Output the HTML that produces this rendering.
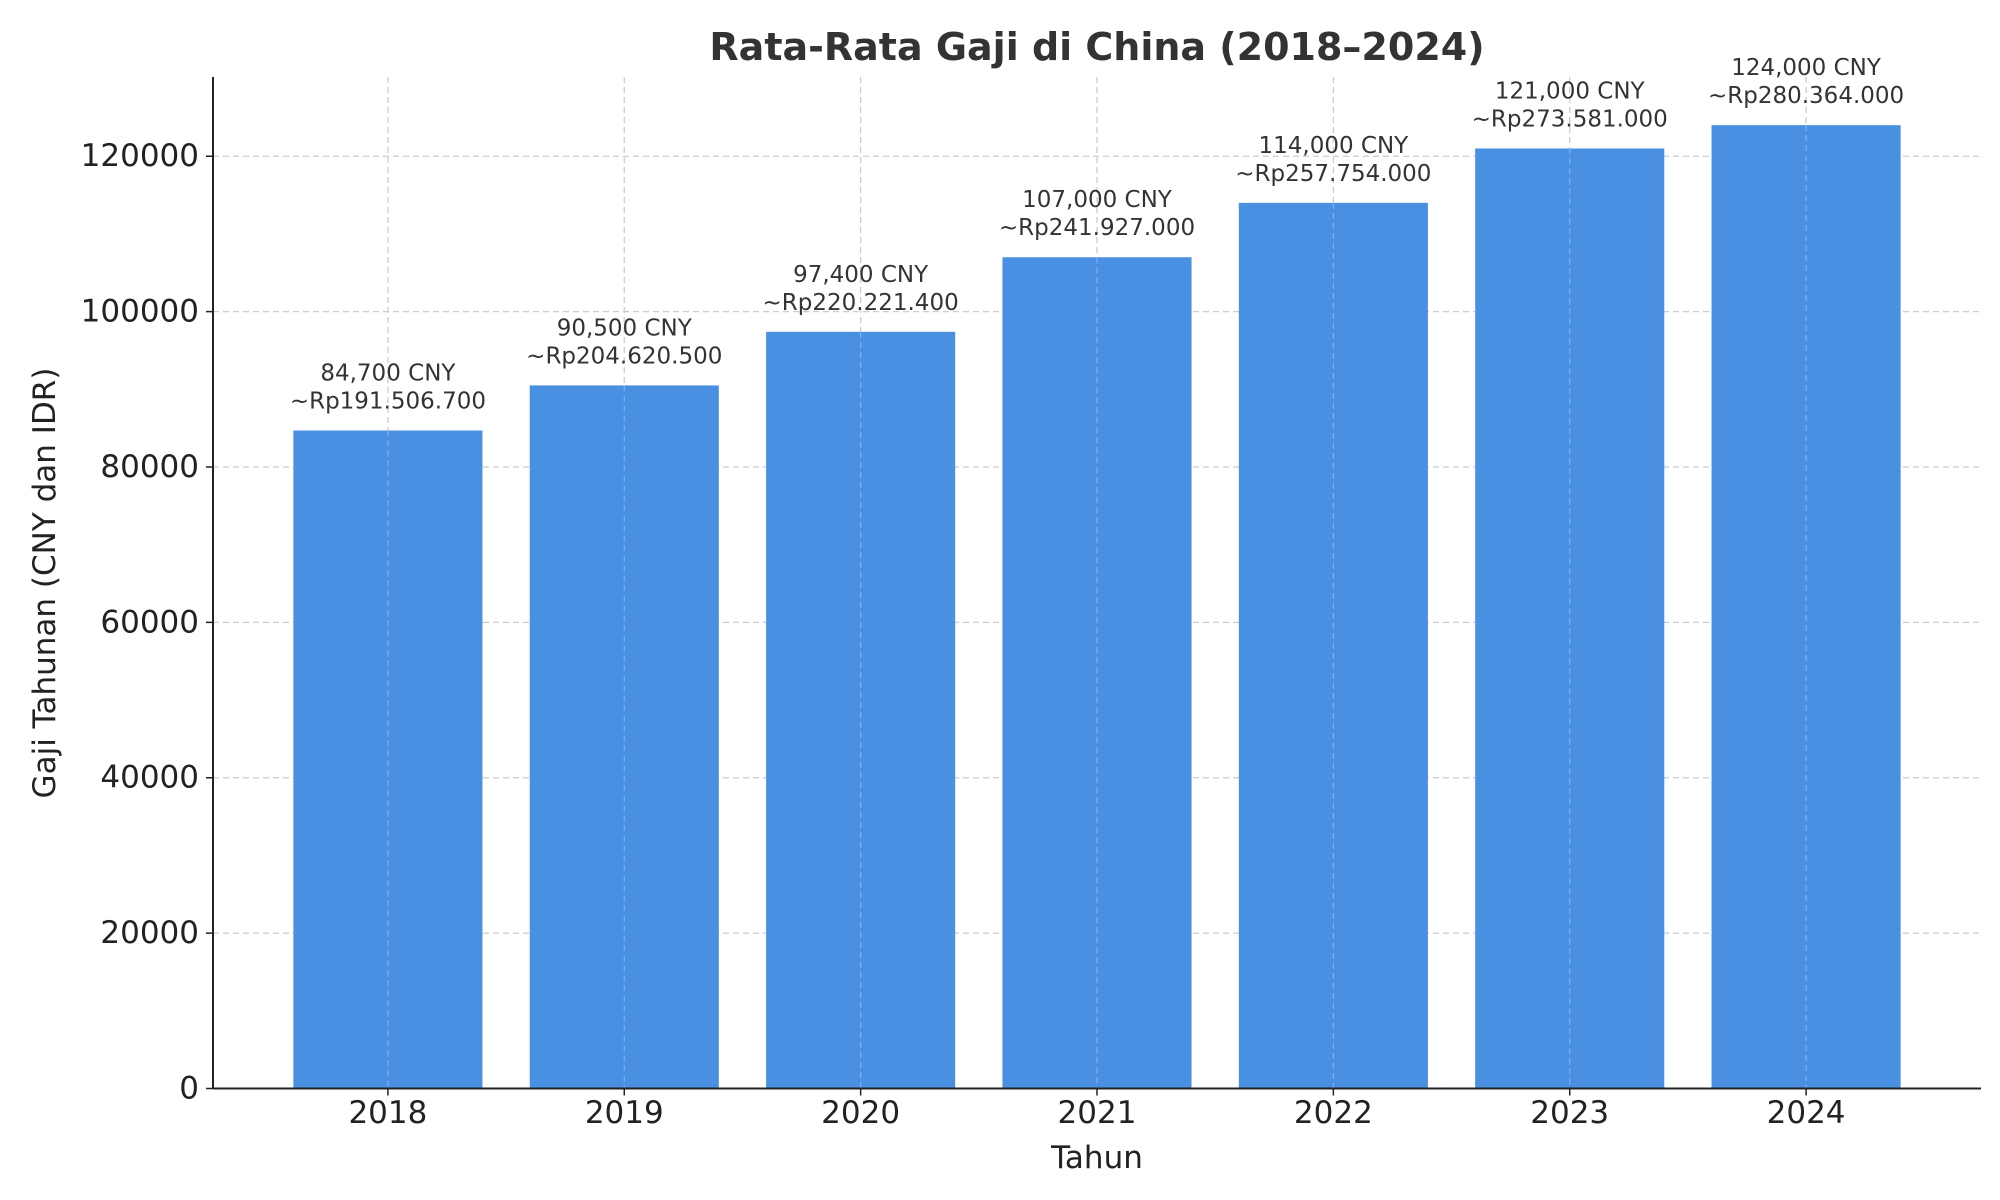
<!DOCTYPE html>
<html><head><meta charset="utf-8"><style>
html,body{margin:0;padding:0;background:#fff;}
svg{display:block;font-family:"DejaVu Sans","Liberation Sans",sans-serif;}
</style></head><body>
<svg id="chart" width="2000" height="1200" viewBox="0 0 2000 1200" xmlns="http://www.w3.org/2000/svg">
<text x="1097" y="47" text-anchor="middle" dominant-baseline="central" font-size="38" font-weight="bold" fill="#333">Rata-Rata Gaji di China (2018–2024)</text>
<g id="grid"></g><g id="bars"></g><g id="labels"></g><g id="axes"></g>
<text transform="translate(45,583) rotate(-90)" text-anchor="middle" dominant-baseline="central" font-size="31" fill="#222">Gaji Tahunan (CNY dan IDR)</text>
<text x="1097" y="1158" text-anchor="middle" dominant-baseline="central" font-size="31" fill="#222">Tahun</text>
</svg>
<script>
const categories = ["2018","2019","2020","2021","2022","2023","2024"];
const cnyValues = [84700, 90500, 97400, 107000, 114000, 121000, 124000];
const cnyLabels = ["84,700 CNY","90,500 CNY","97,400 CNY","107,000 CNY","114,000 CNY","121,000 CNY","124,000 CNY"];
const idrLabels = ["~Rp191.506.700","~Rp204.620.500","~Rp220.221.400","~Rp241.927.000","~Rp257.754.000","~Rp273.581.000","~Rp280.364.000"];
const yTicks = [0, 20000, 40000, 60000, 80000, 100000, 120000];

const NS = "http://www.w3.org/2000/svg";
const L = 213, R = 1981, T = 77, B = 1088.5;
const yMax = Math.max(...cnyValues) * 1.05;
const xMin = -0.74, xMax = categories.length - 1 + 0.74;
const x = i => L + (i - xMin) / (xMax - xMin) * (R - L);
const y = v => B - v / yMax * (B - T);
const bw = (x(1) - x(0)) * 0.8;
function mk(tag, attrs, parent, text) {
  const e = document.createElementNS(NS, tag);
  for (const k in attrs) e.setAttribute(k, attrs[k]);
  if (text !== undefined) e.textContent = text;
  parent.appendChild(e); return e;
}
const grid = document.getElementById('grid'), bars = document.getElementById('bars'),
      labels = document.getElementById('labels'), axes = document.getElementById('axes');
yTicks.forEach(v => {
  const g = mk('line', {x1:L, x2:R, y1:y(v), y2:y(v), stroke:'#ccc', 'stroke-width':1.3, 'stroke-dasharray':'6,4'}, grid);
  
  
  const t = mk('text', {x:L-14, y:y(v), 'text-anchor':'end', 'dominant-baseline':'central', 'font-size':31, fill:'#222'}, axes, String(v));
  
  
  const tk = mk('line', {x1:L-7, x2:L, y1:y(v), y2:y(v), stroke:'#222', 'stroke-width':1.5}, axes);
  
  
});
categories.forEach((c, i) => {
  const g = mk('line', {x1:x(i), x2:x(i), y1:T, y2:B, stroke:'#ccc', 'stroke-width':1.3, 'stroke-dasharray':'6,4'}, grid);
  
  
  const b = mk('rect', {x:x(i)-bw/2, y:y(cnyValues[i]), width:bw, height:B-y(cnyValues[i]), fill:'#4a90e2'}, bars);
  
  
  const vg = mk('line', {x1:x(i), x2:x(i), y1:y(cnyValues[i]), y2:B, stroke:'#7fb0ea', 'stroke-width':1.2, 'stroke-dasharray':'6,4'}, bars);
  
  
  const l1 = mk('text', {x:x(i), y:y(cnyValues[i])-57, 'text-anchor':'middle', 'dominant-baseline':'central', 'font-size':23, fill:'#333'}, labels, cnyLabels[i]);
  
  
  const l2 = mk('text', {x:x(i), y:y(cnyValues[i])-29, 'text-anchor':'middle', 'dominant-baseline':'central', 'font-size':23, fill:'#333'}, labels, idrLabels[i]);
  
  
  const t = mk('text', {x:x(i), y:1113, 'text-anchor':'middle', 'dominant-baseline':'central', 'font-size':31, fill:'#222'}, axes, c);
  
  
  const tk = mk('line', {x1:x(i), x2:x(i), y1:B, y2:B+7, stroke:'#222', 'stroke-width':1.5}, axes);
  
  
});
const ya = mk('line', {x1:L, x2:L, y1:T, y2:B, stroke:'#222', 'stroke-width':2}, axes);


const xa = mk('line', {x1:L, x2:R, y1:B, y2:B, stroke:'#222', 'stroke-width':2}, axes);


</script>
</body></html>
